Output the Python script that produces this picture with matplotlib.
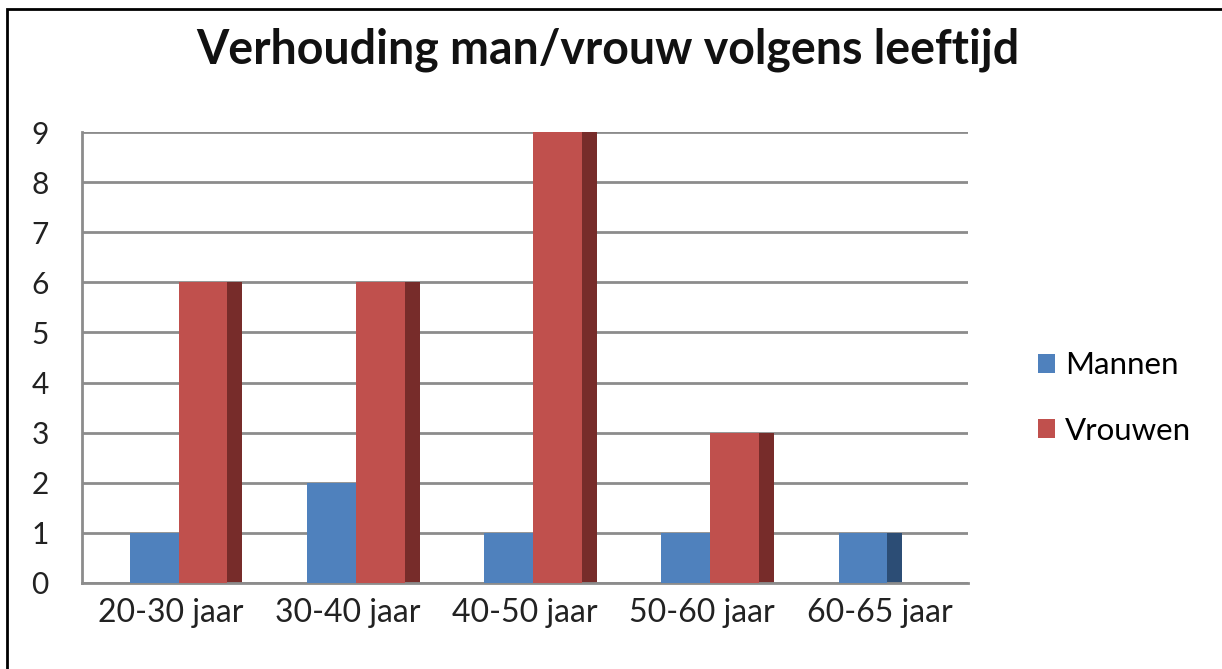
import numpy as np
import matplotlib.pyplot as plt
from matplotlib.patches import Rectangle

categories = ["20-30 jaar", "30-40 jaar", "40-50 jaar", "50-60 jaar", "60-65 jaar"]
mannen = [1, 2, 1, 1, 1]
vrouwen = [6, 6, 9, 3, 0]
yticks = list(range(0, 10))

blue, blue_dark = "#4f81bd", "#2c4d75"
red, red_dark = "#c0504d", "#772c2a"
grid_col = "#8c8c8c"

plt.rcParams['font.family'] = ['Lato', 'DejaVu Sans']

fig = plt.figure(figsize=(12.22, 6.69), dpi=100)
W, H = 1222, 669
ax = fig.add_axes([82 / W, 1 - 583 / H, (968 - 82) / W, (583 - 132) / H])

x = np.arange(len(categories))
bw = 0.275
side = 0.085
# darker strip on the right of each bar (fake 3d side)
ax.bar(x - 0.23 + bw, mannen, width=side, align='edge', color=blue_dark, zorder=2)
ax.bar(x + 0.045 + bw, vrouwen, width=side, align='edge', color=red_dark, zorder=2)
ax.bar(x - 0.23, mannen, width=bw, align='edge', color=blue, zorder=3, label="Mannen")
ax.bar(x + 0.045, vrouwen, width=bw, align='edge', color=red, zorder=3, label="Vrouwen")

ax.set_xlim(-0.5, len(categories) - 0.5)
ax.set_ylim(0, 9)
ax.set_yticks(yticks)
ax.set_yticklabels([str(v) for v in yticks], fontsize=21.5, color="#222222")
ax.set_xticks(x)
ax.set_xticklabels(categories, fontsize=23, color="#222222")
ax.tick_params(axis='both', length=0)
ax.tick_params(axis='y', pad=24)
ax.tick_params(axis='x', pad=11)
ax.yaxis.grid(True, color=grid_col, linewidth=2, zorder=1)
ax.set_axisbelow(True)
for s in ['top', 'right']:
    ax.spines[s].set_visible(False)
for s in ['left', 'bottom']:
    ax.spines[s].set_color(grid_col)
    ax.spines[s].set_linewidth(2)

fig.text(608 / W, 1 - 50 / H, "Verhouding man/vrouw volgens leeftijd",
         ha='center', va='center', fontsize=33.5, fontweight='bold', color="#111111")

ax.legend(loc='center left', bbox_to_anchor=(1010 / W, 1 - 398 / H),
          bbox_transform=fig.transFigure,
          frameon=False, fontsize=22.5, handlelength=0.55, handleheight=0.55,
          handletextpad=0.3, labelspacing=1.2)

fig.patches.append(Rectangle((7 / W, -0.1), 1.2, 1 - 9 / H + 0.1, transform=fig.transFigure,
                             fill=False, edgecolor='black', linewidth=2))

fig.savefig("out.png", dpi=100)
